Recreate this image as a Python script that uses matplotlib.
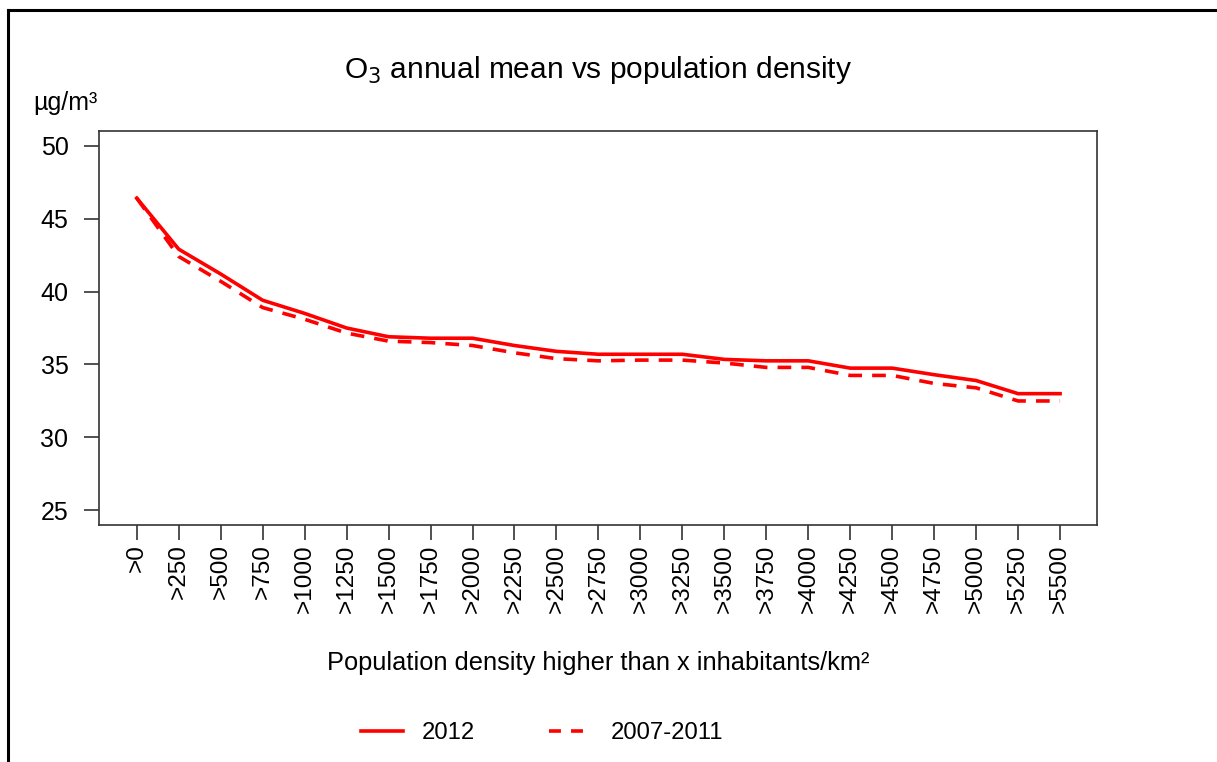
import numpy as np
import matplotlib.pyplot as plt
from matplotlib.lines import Line2D

plt.rcParams['font.family'] = ['Liberation Sans', 'DejaVu Sans']

# categories on the x axis
density_labels = ['>0', '>250', '>500', '>750', '>1000', '>1250', '>1500', '>1750',
                  '>2000', '>2250', '>2500', '>2750', '>3000', '>3250', '>3500',
                  '>3750', '>4000', '>4250', '>4500', '>4750', '>5000', '>5250', '>5500']

# O3 annual mean, ug/m3
o3_2012 = [46.4, 42.9, 41.2, 39.4, 38.5, 37.5, 36.9, 36.8, 36.8, 36.3, 35.9, 35.7,
           35.7, 35.7, 35.35, 35.25, 35.25, 34.75, 34.75, 34.3, 33.9, 33.0, 33.0]
o3_2007_2011 = [46.4, 42.4, 40.7, 38.9, 38.1, 37.15, 36.6, 36.5, 36.3, 35.8, 35.4, 35.25,
                35.3, 35.3, 35.1, 34.8, 34.8, 34.25, 34.25, 33.7, 33.4, 32.5, 32.5]

y_ticks = [25, 30, 35, 40, 45, 50]

fig = plt.figure(figsize=(12.17, 7.62), dpi=100)
ax = fig.add_axes([99/1217, 1-525/762, (1097-99)/1217, (525-131)/762])

x = np.arange(1, len(density_labels) + 1)
ax.plot(x, o3_2012, color='red', lw=2.6, solid_joinstyle='round')
ax.plot(x, o3_2007_2011, color='red', lw=2.6, dashes=(3.8, 2.8))

ax.set_xlim(0.1, len(density_labels) + 0.88)
ax.set_ylim(24, 51)
ax.set_xticks(x)
ax.set_xticklabels(density_labels, rotation=90, fontsize=17.5)
ax.set_yticks(y_ticks)
ax.set_yticklabels([str(v) for v in y_ticks], fontsize=18)

for s in ax.spines.values():
    s.set_color('#333333')
    s.set_linewidth(1.2)
ax.tick_params(axis='both', direction='out', length=11, width=1.2, color='#333333')
ax.tick_params(axis='x', pad=3)
ax.tick_params(axis='y', pad=11)

fig.text(598/1217, 1-70/762, r'O$_3$ annual mean vs population density',
         ha='center', va='center', fontsize=21.5)
fig.text(33/1217, 1-103/762, 'µg/m³', ha='left', va='center', fontsize=18)
fig.text(598/1217, 1-663/762, 'Population density higher than x inhabitants/km²',
         ha='center', va='center', fontsize=18.3)

handles = [Line2D([], [], color='red', lw=2.6),
           Line2D([], [], color='red', lw=2.6, dashes=(3.3, 2.8))]
fig.legend(handles, ['2012', '2007-2011'], loc='center', bbox_to_anchor=(542/1217, 1-733/762),
           ncol=2, frameon=False, fontsize=17.2, handlelength=1.75, handletextpad=0.8,
           columnspacing=3.1)

# outer frame (top and left edges)
fig.add_artist(Line2D([8/1217, 8/1217], [0, 1-10/762], color='black', lw=2.2,
                      transform=fig.transFigure))
fig.add_artist(Line2D([8/1217, 1216/1217], [1-10/762, 1-10/762], color='black', lw=2.2,
                      transform=fig.transFigure))

fig.savefig('out.png', dpi=100, facecolor='white')
